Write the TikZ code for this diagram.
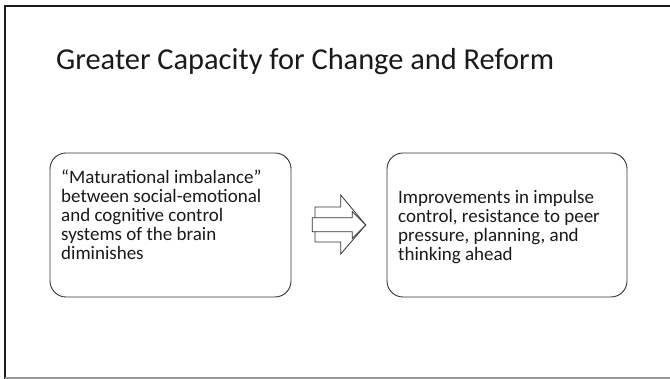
\documentclass[tikz,border=0pt]{standalone}
\usepackage{fontspec}
\setmainfont{Carlito}
\definecolor{ink}{HTML}{1A1A1A}
\definecolor{edge}{HTML}{333333}
\begin{document}
\begin{tikzpicture}[x=1pt,y=1pt,
  boxstyle/.style={draw=edge, line width=0.9pt, rounded corners=16pt, fill=white},
  bodytext/.style={anchor=base west, inner sep=0pt, text=ink, font=\fontsize{19}{18.6}\selectfont},
  arrowpart/.style={draw=edge, line width=0.8pt, fill=white, line join=miter}]
\useasboundingbox (0,0) rectangle (670,379);
% slide frame
\draw[ink, line width=2pt] (4.5,0) -- (4.5,373) -- (670,373);
\draw[gray!80, line width=1.5pt] (4.5,0.75) -- (670,0.75);
% title
\node[anchor=base west, inner sep=0pt, text=ink, font=\fontsize{30.4}{36}\selectfont] (title) at (56,309.7) {Greater Capacity for Change and Reform};
% boxes
\draw[boxstyle] (50,82) rectangle (291,226);
\draw[boxstyle] (387,82) rectangle (627,226);
\node[bodytext] (lefttext) at (61,195) {\begin{tabular}[t]{@{}l@{}}“Maturational imbalance”\\between social-emotional\\and cognitive control\\systems of the brain\\diminishes\end{tabular}};
\node[bodytext] (righttext) at (398,175) {\begin{tabular}[t]{@{}l@{}}Improvements in impulse\\control, resistance to peer\\pressure, planning, and\\thinking ahead\end{tabular}};
% block arrow
\draw[arrowpart] (315,172) -- (340.7,172) -- (340.7,184) -- (365.7,154) -- (340.7,125) -- (340.7,137) -- (315,137) -- cycle;
\draw[arrowpart] (312.3,161.3) -- (352.3,161.3) -- (352.3,167.3) -- (365.7,154) -- (352.3,140.7) -- (352.3,147.3) -- (312.3,147.3) -- cycle;
\end{tikzpicture}
\end{document}
